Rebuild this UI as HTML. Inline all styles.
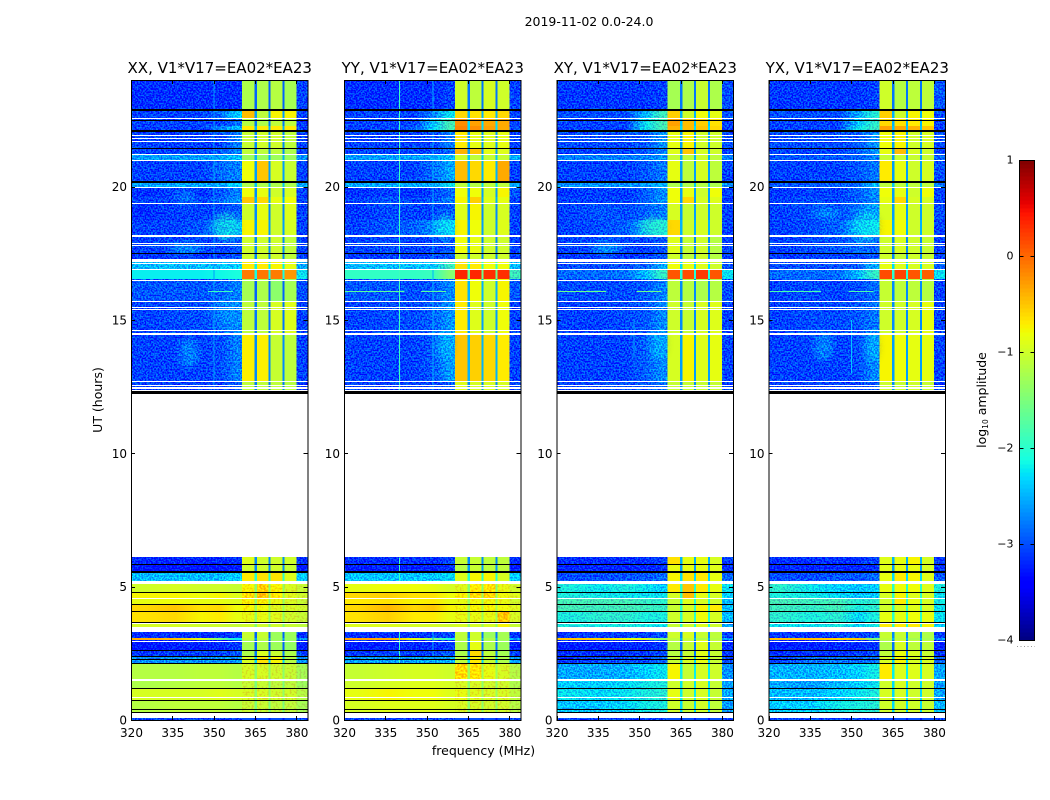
<!DOCTYPE html>
<html lang="en">
<head>
<meta charset="utf-8">
<title>2019-11-02 0.0-24.0</title>
<style>
html,body{margin:0;padding:0;background:#fff;}
svg{display:block;}
text{font-family:"DejaVu Sans","Liberation Sans",sans-serif;fill:#000;}
</style>
</head>
<body>
<svg id="figure" xmlns="http://www.w3.org/2000/svg" width="1050" height="800" viewBox="0 0 1050 800">
  <defs id="defs">
    <filter id="grain" x="0" y="0" width="1" height="1" color-interpolation-filters="sRGB">
      <feTurbulence type="fractalNoise" baseFrequency="0.62" numOctaves="1" seed="7" result="t"/>
      <feColorMatrix in="t" type="matrix" values="0 0 0 0 0.6  3.6 0 0 0 -1.3  0 0 0 0 0.6  0 0 0 0 1" result="n"/>
      <feComposite in="SourceGraphic" in2="n" operator="arithmetic" k1="0" k2="1" k3="0.5" k4="-0.3" result="m"/>
      <feComposite in="m" in2="SourceGraphic" operator="in"/>
    </filter>
    <filter id="speckle" x="0" y="0" width="1" height="1" color-interpolation-filters="sRGB">
      <feTurbulence type="fractalNoise" baseFrequency="0.5" numOctaves="1" seed="3" result="t"/>
      <feColorMatrix in="t" type="matrix" values="0 0 0 0 0.5  3.6 0 0 0 -1.3  0 0 0 0 0.5  0 0 0 0 1" result="n"/>
      <feComposite in="SourceGraphic" in2="n" operator="arithmetic" k1="0" k2="1" k3="0.3" k4="-0.15" result="m"/>
      <feComposite in="m" in2="SourceGraphic" operator="in"/>
    </filter>
    <filter id="soft" x="-50%" y="-100%" width="200%" height="300%">
      <feGaussianBlur stdDeviation="4 3"/>
    </filter>
  </defs>
  <text x="589" y="26" font-size="12.5" text-anchor="middle">2019-11-02 0.0-24.0</text>
  <text transform="translate(102,400) rotate(-90)" font-size="12.5" text-anchor="middle">UT (hours)</text>
  <text x="483.5" y="755" font-size="12.5" text-anchor="middle">frequency (MHz)</text>
  <text transform="translate(986,400) rotate(-90)" font-size="12.5" text-anchor="middle">log<tspan font-size="7.5" dy="2">10</tspan><tspan dy="-2"> amplitude</tspan></text>
  <g id="panels"></g>
  <g id="colorbar"></g>
</svg>
<script>
// ---- chart data (log10 amplitude, UT hours, MHz) ----
const panelTitles = ["XX, V1*V17=EA02*EA23","YY, V1*V17=EA02*EA23","XY, V1*V17=EA02*EA23","YX, V1*V17=EA02*EA23"];
const lowFreqCenters = [325,336,345.5,352.5,358.15];
const lowFreqRange = [320,360.3];
const bandEdges = [360.3,364.8,365.7,369.9,370.6,374.9,375.7,380,384];
const columnOfBand = [5,6,7,6,8,6,9,10];
const utEdges = [24,22.875,22.54,22.275,22.09,21.45,21.225,20.98,20.175,19.99,19.61,19.35,18.75,18.15,17.475,17.21,16.875,16.54,15.675,14.475,12.71,12.24,6.11,5.81,5.55,5.21,4.8,4.575,4.33,4.07,3.66,3.3,3.075,3,2.625,2.36,2.1,1.5,1.16,0.71,0.26,0];
const xTicks = [320,335,350,365,380];
const utTicks = [0,5,10,15,20];
const colorTicks = [1,0,-1,-2,-3,-4];
const colorTickLabels = ["1","0","\u22121","\u22122","\u22123","\u22124"];
const NA = null;
const blank = [NA,NA,NA,NA,NA,NA,NA,NA,NA,NA,NA];

const seriesXX = [
[-3.1,-3.1,-3.1,-3.1,-3.1,-1.2,-2.6,-1.2,-1.15,-1.25,-3],
[-3,-3,-3,-2.8,-2.3,-.45,-2.3,-1.1,-.75,-.75,-3],
[-3,-3,-3,-3,-2.8,-1.15,-2.5,-1.2,-1.1,-1.1,-3.1],
[-3,-3,-3,-2.7,-2.4,-.7,-2.2,-.7,-.7,-.7,-3],
[-3,-3,-3,-3,-2.7,-1.05,-2.4,-1,-1,-1.1,-3],
[-3,-3,-3,-2.9,-2.7,-1.1,-2.4,-1.1,-1.1,-1.2,-3],
[-2.55,-2.55,-2.55,-2.5,-2.4,-1.3,-2.2,-1.3,-1.3,-1.3,-2.6],
[-3,-3,-3,-2.8,-2.7,-.8,-2.3,-.5,-.95,-1.05,-3],
[-2.5,-2.5,-2.5,-2.5,-2.3,-1.2,-2.1,-1.2,-1.2,-1.2,-2.5],
[-3.1,-3,-3.1,-2.9,-2.7,-.8,-2.4,-.85,-1,-.95,-3],
[-3,-3,-3,-2.8,-2.6,-.5,-2.2,-.6,-.85,-.8,-3],
[-3.1,-3,-3,-3,-2.9,-1,-2.4,-.85,-1,-.9,-3],
[-3,-3,-2.9,-2.7,-2.5,-.75,-2.3,-.75,-1,-.95,-3],
[-3,-3,-3,-3,-2.9,-1,-2.4,-1,-1,-1.1,-3],
[-3.1,-3,-3.1,-3,-2.9,-1,-2.4,-1,-1,-1.1,-3],
[-2.4,-2.4,-2.4,-2.4,-2.3,-.7,-1.9,-.7,-.75,-.85,-2.5],
[-2.2,-2.2,-2.2,-2.15,-2.1,-.1,-1.8,-.08,-.1,-.25,-2.2],
[-2.9,-2.9,-2.9,-2.85,-2.7,-1.25,-2.6,-1.2,-1.4,-1.25,-2.95],
[-3,-2.95,-2.95,-2.8,-2.65,-1.1,-2.5,-1.1,-.95,-.9,-3],
[-3,-3,-3,-2.95,-2.7,-.72,-2.4,-.72,-1.05,-1.1,-3],
[-3,-3,-3,-3,-2.9,-1.1,-2.5,-1.1,-1.1,-1.15,-3.05],
blank,
[-3.15,-3.15,-3.15,-3.15,-3.1,-.9,-2.4,-1,-1,-1,-3.1],
[-3.25,-3.25,-3.25,-3.25,-3.2,-1,-2.4,-1,-1,-1.05,-3.2],
[-2.4,-2.4,-2.4,-2.4,-2.3,-.7,-1.7,-.65,-.65,-.9,-2.3],
[-1,-.95,-1,-1,-1.05,-.75,-1.1,-.55,-.75,-.95,-1.05],
[-.75,-.75,-.8,-.75,-.9,-.6,-1,-.5,-.7,-.9,-1],
[-.85,-.8,-.85,-.85,-.9,-.75,-1.05,-.75,-.85,-.95,-1.05],
[-.6,-.5,-.65,-.6,-.8,-.75,-1,-.8,-.9,-.95,-1],
[-.65,-.6,-.75,-.7,-.85,-.85,-1.05,-.85,-.9,-1,-1.05],
[-.95,-.95,-1,-1,-1.05,-1,-1.2,-1,-1,-1.05,-1.1],
[-3.1,-3.1,-3.1,-3.1,-3,-1.05,-2.6,-1.05,-1.3,-1.3,-3.1],
[-.35,-.45,-.9,-1.5,-2.2,-1.1,-2.3,-1.1,-1.3,-1.3,-2.6],
[-3.25,-3.2,-3.2,-3.15,-3.05,-1.25,-2.6,-1.2,-1.3,-1.35,-3.2],
[-3.05,-3.05,-3,-3,-2.9,-1.2,-2.5,-.95,-1.05,-1.2,-3],
[-2.6,-2.6,-2.6,-2.6,-2.55,-.95,-2,-.65,-.75,-1.15,-2.6],
[-1.15,-1.15,-1.1,-1.1,-1.15,-.95,-1.1,-.95,-1,-1.05,-1.25],
[-1.2,-1.15,-1.1,-1.1,-1.15,-1.05,-1.2,-1.05,-1.1,-1.1,-1.3],
[-.95,-.95,-.95,-.9,-.95,-.95,-1.05,-.95,-1,-1,-1.15],
[-1.15,-1.1,-1.1,-1.1,-1.15,-1.05,-1.2,-1.05,-1.1,-1.1,-1.25],
[-3,-3,-3,-3,-3,-3,-3,-3,-3,-3,-3]
];

const seriesYY = [
[-3.1,-3.1,-3.1,-3.1,-3,-1,-2.5,-1.1,-.95,-1,-3],
[-3,-3,-3,-2.7,-2.2,-.6,-2.2,-.65,-.7,-.6,-3],
[-3,-3,-3,-2.35,-1.85,-.2,-2,-.3,-.35,-.35,-3],
[-3,-3,-2.9,-2.3,-1.85,-.15,-2,-.2,-.3,-.35,-3],
[-3,-3,-3,-3,-2.7,-.7,-2.3,-.85,-.9,-.85,-3],
[-3,-3,-3,-3,-2.8,-.4,-2.3,-.5,-.85,-.9,-3],
[-2.55,-2.55,-2.55,-2.5,-2.4,-1,-2.1,-1.1,-1.05,-1.05,-2.5],
[-3,-3,-3,-2.8,-2.5,-.45,-2.2,-.6,-.7,-.35,-3],
[-2.5,-2.5,-2.5,-2.5,-2.2,-1.1,-2,-1.15,-1.1,-1.1,-2.5],
[-3.1,-3,-3.1,-3,-2.8,-.8,-2.3,-.8,-.95,-.75,-2.9],
[-3,-2.9,-3,-2.9,-2.7,-.75,-2.2,-.55,-.9,-.85,-3],
[-3.05,-2.95,-3,-3,-2.9,-.9,-2.4,-.75,-1,-.95,-3],
[-3,-2.9,-2.85,-2.65,-2.3,-.75,-2.3,-.8,-1,-.9,-3],
[-3,-2.95,-3,-3,-2.9,-.8,-2.4,-.85,-1,-1,-3],
[-3.05,-3,-3.05,-3,-2.9,-1,-2.4,-1,-1,-1,-3],
[-2.4,-2.4,-2.4,-2.35,-1.9,-.65,-1.7,-.7,-.8,-.8,-2.4],
[-1.95,-1.95,-1.95,-1.9,-1.45,.35,-1.3,.35,.3,.3,-1.9],
[-2.9,-2.9,-2.95,-2.9,-2.65,-.65,-2.2,-.8,-1,-.75,-2.9],
[-3,-2.95,-2.95,-2.85,-2.6,-.7,-2.3,-.9,-1,-.8,-3],
[-3,-3,-3,-2.9,-2.55,-.5,-2.2,-.55,-.6,-.7,-3],
[-3,-3,-3,-3,-2.9,-.9,-2.4,-.95,-.95,-.95,-3],
blank,
[-3.1,-3.1,-3.1,-3.1,-3,-1.05,-2.4,-1.05,-1.1,-1.1,-3.1],
[-3.2,-3.2,-3.2,-3.2,-3.1,-1.15,-2.3,-1.05,-1.1,-1.1,-3.2],
[-2.35,-2.35,-2.35,-2.35,-2.25,-.9,-1.7,-.75,-.75,-.95,-2.3],
[-.85,-.8,-.8,-.85,-.95,-.9,-1.15,-.7,-.65,-.85,-1],
[-.6,-.55,-.65,-.65,-.8,-.75,-1,-.6,-.55,-.8,-.9],
[-.7,-.65,-.75,-.7,-.85,-.85,-1,-.8,-.8,-.85,-1],
[-.6,-.42,-.6,-.5,-.75,-.8,-.95,-.75,-.75,-.8,-.9],
[-.65,-.55,-.7,-.7,-.85,-.85,-1,-.85,-.85,-.5,-.95],
[-.9,-.9,-.95,-.95,-1,-.95,-1.1,-.95,-.95,-.75,-1.05],
[-3.1,-3.1,-3.05,-3.05,-2.95,-1.1,-2.5,-1,-1.3,-1.25,-3.1],
[-.3,-.35,-.85,-1.4,-2.1,-1.1,-2.2,-1,-1.2,-1.25,-2.5],
[-3.2,-3.2,-3.15,-3.15,-3.05,-1.2,-2.5,-.85,-1.2,-1.3,-3.2],
[-3.05,-3,-3,-3,-2.9,-1.2,-2.5,-.6,-1.1,-1.25,-3],
[-2.55,-2.55,-2.5,-2.5,-2.45,-1.1,-2,-.7,-1.05,-1.2,-2.55],
[-1.05,-1,-.95,-.95,-1,-.6,-1,-.65,-.85,-.95,-1.15],
[-1,-.95,-.9,-.9,-.95,-.95,-1.1,-.95,-1,-1,-1.2],
[-.85,-.75,-.8,-.8,-.9,-.85,-1,-.9,-.95,-.95,-1.1],
[-.95,-.9,-.9,-.9,-.95,-.95,-1.1,-.95,-1,-1,-1.15],
[-3,-3,-3,-3,-3,-3,-3,-3,-3,-3,-3]
];

const seriesXY = [
[-3.05,-3.05,-3.05,-3.05,-3,-1.25,-2.5,-1.2,-1.05,-1.2,-2.95],
[-2.95,-2.95,-2.95,-2.4,-1.9,-.55,-2.2,-1,-.8,-.85,-2.9],
[-3,-3,-3,-2.2,-1.85,-.3,-2.1,-.45,-.55,-.65,-3],
[-3,-3,-3,-2.2,-1.85,-.4,-2,-.45,-.5,-.6,-3],
[-2.95,-2.95,-2.95,-2.9,-2.6,-.85,-2.3,-.75,-1,-1,-2.95],
[-3,-3,-3,-2.9,-2.7,-.9,-2.3,-.5,-.95,-1,-3],
[-2.7,-2.7,-2.7,-2.7,-2.6,-1.05,-2.2,-1.1,-1,-1.1,-2.7],
[-3,-3,-3,-2.9,-2.75,-.85,-2.3,-1.1,-.95,-1.1,-3],
[-2.6,-2.6,-2.6,-2.6,-2.4,-1.2,-2.1,-1.2,-1.15,-1.2,-2.6],
[-3.05,-3,-3.05,-2.85,-2.65,-.8,-2.3,-.85,-1,-.8,-3],
[-3,-3,-3,-2.85,-2.6,-.8,-2.3,-.6,-.95,-.9,-3],
[-3,-2.9,-2.95,-2.85,-2.7,-.95,-2.3,-1.05,-1,-1,-3],
[-3,-2.95,-2.85,-2.5,-2.1,-.6,-2.2,-1,-.95,-1,-3],
[-3,-2.95,-2.95,-3,-2.9,-.9,-2.4,-1.05,-1,-1.15,-3],
[-3.05,-3,-3.05,-3,-2.9,-1,-2.4,-1.1,-1,-1.15,-3],
[-2.95,-2.95,-2.95,-2.85,-2.5,-.8,-2,-.85,-.9,-1,-2.9],
[-2.8,-2.8,-2.75,-2.4,-1.95,.1,-1.75,.15,.25,.1,-2.2],
[-2.95,-2.95,-2.95,-2.9,-2.7,-1.1,-2.4,-1.15,-1.2,-1.15,-2.95],
[-3,-3,-2.95,-2.9,-2.65,-1,-2.4,-1.05,-.95,-.9,-3],
[-3,-3,-3,-2.85,-2.65,-.95,-2.3,-.75,-.9,-.85,-3],
[-3,-2.95,-2.9,-2.9,-2.8,-1.05,-2.4,-1.05,-1.05,-1.05,-3],
blank,
[-3.1,-3.1,-3.1,-3.1,-3,-.65,-2.2,-.85,-.85,-.95,-3],
[-3.15,-3.15,-3.15,-3.15,-3.1,-.85,-2.3,-.85,-.85,-.9,-3.1],
[-2.95,-2.95,-2.9,-2.9,-2.8,-.75,-2,-.65,-.7,-.85,-2.85],
[-2.1,-2.2,-2.1,-2.2,-2.3,-.7,-1.7,-.5,-.7,-.85,-2.2],
[-2.1,-2.15,-2.2,-2.2,-2.2,-.95,-1.7,-.45,-.85,-.95,-2.3],
[-1.85,-1.85,-1.85,-1.95,-2,-1.05,-1.75,-.9,-.95,-1,-2.4],
[-1.85,-1.9,-1.85,-1.9,-1.95,-1.05,-1.7,-.95,-.75,-.7,-2.4],
[-2.1,-2,-2,-2.1,-2.1,-1,-1.7,-.95,-.8,-.95,-2.4],
[-2.1,-2.15,-2.1,-2.15,-2.2,-1.05,-1.75,-1,-.9,-1,-2.5],
[-3.05,-3.05,-3,-3,-2.95,-1,-2.4,-.95,-1.05,-1.1,-3],
[-.5,-.55,-.85,-.9,-1.5,-1.1,-2.2,-1.05,-1.2,-1.15,-2.6],
[-3.2,-3.2,-3.15,-3.15,-3.05,-1.15,-2.5,-1.05,-.9,-1.05,-3.1],
[-3.1,-3.1,-3.05,-3.05,-2.95,-1.15,-2.5,-1.05,-.9,-1.05,-3.05],
[-3.05,-2.95,-2.9,-2.95,-2.8,-1.05,-2,-.95,-.85,-1.05,-2.95],
[-2.5,-2.5,-2.45,-2.3,-2.2,-.75,-1.9,-1.05,-.95,-1,-2.6],
[-2.3,-2.3,-2.25,-2.15,-2.1,-1,-1.95,-1,-.95,-1.05,-2.55],
[-2.2,-2.25,-2.2,-2.1,-2.05,-.85,-1.9,-1,-.95,-1.05,-2.5],
[-2.35,-2.35,-2.25,-2.15,-2.1,-1,-2,-1.05,-1,-1.1,-2.55],
[-3,-3,-3,-3,-3,-3,-3,-3,-3,-3,-3]
];

const seriesYX = [
[-3.05,-3.05,-3.05,-3.05,-3,-1,-2.5,-1.15,-1.1,-1.1,-2.9],
[-2.95,-2.95,-2.95,-2.5,-2.05,-.55,-2.2,-1,-.75,-.8,-2.95],
[-3,-3,-3,-2.35,-2,-.6,-2.2,-.65,-.7,-.75,-3],
[-3,-3,-3,-2.2,-1.95,-.3,-2.1,-.35,-.4,-.5,-3],
[-2.95,-2.95,-2.95,-2.9,-2.6,-.8,-2.3,-.75,-1,-.95,-2.95],
[-3,-3,-3,-2.85,-2.6,-.85,-2.3,-.45,-.95,-1,-3],
[-2.9,-2.9,-2.9,-2.85,-2.7,-1.05,-2.3,-1.05,-1.05,-1.05,-2.85],
[-3,-3,-3,-2.9,-2.75,-.7,-2.3,-.85,-1,-.95,-2.95],
[-2.9,-2.9,-2.85,-2.8,-2.4,-1.1,-2.1,-1.1,-1.1,-1.1,-2.7],
[-3.05,-3,-3,-2.85,-2.65,-.8,-2.3,-.85,-1,-.8,-3],
[-3,-2.95,-3,-2.85,-2.65,-.85,-2.3,-.6,-.95,-.95,-3],
[-3,-2.95,-2.95,-2.75,-2.55,-.95,-2.3,-.85,-1,-1,-2.95],
[-3,-2.95,-2.85,-2.45,-2.2,-.75,-2.2,-.8,-1,-1,-3],
[-3,-2.95,-2.9,-2.8,-2.85,-1,-2.4,-.95,-1,-1.05,-3],
[-3.05,-3,-3,-3,-2.9,-1,-2.4,-1.05,-1,-1.05,-3],
[-2.95,-2.95,-2.95,-2.85,-2.5,-.85,-2,-.9,-.95,-.95,-2.85],
[-2.8,-2.8,-2.8,-2.4,-1.95,.15,-1.7,.2,.1,.05,-2.2],
[-3,-2.95,-3,-2.95,-2.8,-1.05,-2.4,-1.1,-1.1,-1.15,-3],
[-3,-2.95,-2.95,-2.9,-2.75,-1,-2.4,-1,-.95,-.85,-3],
[-3,-3,-3,-2.95,-2.65,-.75,-2.3,-.8,-.85,-.85,-3],
[-3,-3,-3,-3,-2.9,-1,-2.4,-1.05,-1,-1.05,-3],
blank,
[-3.1,-3.1,-3.1,-3.1,-3,-.9,-2.2,-.85,-.75,-.95,-3.05],
[-3.15,-3.15,-3.15,-3.15,-3.1,-.9,-2.3,-.85,-.85,-.95,-3.1],
[-2.95,-2.95,-2.9,-2.9,-2.8,-.85,-2,-.7,-.75,-.9,-2.9],
[-2,-2.2,-2.3,-2.35,-2.3,-.85,-1.7,-.8,-.8,-.9,-2.1],
[-2.1,-2.15,-2.25,-2.4,-2.3,-.95,-1.7,-.75,-.9,-.95,-2.2],
[-1.85,-1.9,-1.85,-2.05,-2,-1,-1.7,-.7,-.85,-.95,-2.15],
[-1.9,-1.95,-1.85,-2.1,-2,-1,-1.7,-.95,-.9,-.95,-2.2],
[-2,-2.1,-2,-2.25,-2.1,-.85,-1.7,-.85,-.8,-.85,-2.2],
[-2.2,-2.2,-2.1,-2.25,-2.15,-.7,-1.75,-.7,-.7,-.75,-2.3],
[-3.05,-3.05,-3,-3,-2.95,-1.05,-2.4,-1.05,-1.15,-1.2,-3],
[-.45,-.45,-.6,-.5,-1.5,-1.1,-2.2,-1.1,-1.25,-1.25,-2.6],
[-3.2,-3.2,-3.15,-3.15,-3.05,-1.2,-2.5,-.95,-1.1,-1.1,-3.15],
[-3.1,-3.1,-3.05,-3.05,-2.95,-1.1,-2.5,-.85,-.95,-1.05,-3.05],
[-3,-2.75,-2.75,-2.8,-2.75,-.95,-2,-.75,-.95,-.95,-2.85],
[-2.45,-2.45,-2.4,-2.3,-2.15,-.7,-1.9,-.9,-.9,-.95,-2.5],
[-2.5,-2.55,-2.4,-2.3,-2.2,-1,-2,-.95,-1,-1,-2.55],
[-2.4,-2.4,-2.3,-2.2,-2.1,-.95,-2,-.95,-1,-1,-2.5],
[-2.3,-2.3,-2.15,-2.1,-2.05,-1,-2,-1,-1,-1.05,-2.4],
[-3,-3,-3,-3,-3,-3,-3,-3,-3,-3,-3]
];
const panelSeries = [seriesXX, seriesYY, seriesXY, seriesYX];
// rows whose low band is visibly smooth, per panel
const smoothLowRows = [[16],[16],[],[]];
// rows whose spectral windows are visibly speckled, per panel
const speckledBandRows = [[25,26,27,28,29,36,37,38,39],[25,26,27,28,29,36,37,38,39],[],[]];

// flagged time intervals [UT start, UT end], same for every panel
const whiteFlagStart = [22.575,21.92,21.825,21.73,21.24,21,20,19.395,18.19,17.895,17.81,17.29,17.12,16.93,16.5,15.71,15.495,15.41,14.63,14.53,12.71,12.58,12.47,12.39,5.22,4.585,3.62,3.475,2.96,1.556,0.863,0.251];
const whiteFlagEnd   = [22.53,21.87,21.79,21.695,21.2,20.96,19.96,19.35,18.13,17.85,17.76,17.195,17.07,16.885,16.445,15.66,15.45,15.375,14.585,14.455,12.655,12.535,12.41,12.35,5.1,4.535,3.58,3.3,2.906,1.481,0.825,0.049];
const blackFlagStart = [22.93,22.51,22.11,21.46,20.21,17.52,12.35,5.86,5.6,4.81,4.36,4.095,3.675,2.64,2.4,2.27,2.14,1.21,0.76,0.42,0.3];
const blackFlagEnd   = [22.855,22.475,22.04,21.41,20.12,17.475,12.245,5.81,5.54,4.76,4.31,4.05,3.63,2.6,2.35,2.23,2.09,1.16,0.71,0.375,0.25];

// narrow interference features: panel, MHz, UT range, log10 amplitude
const rfiVPanel = [1,1,1,1,1,0,3,2];
const rfiVFreq  = [340,340,340,352,352,350,350,348];
const rfiVTop   = [24,6.1,3.3,24,3.3,24,15,15];
const rfiVBot   = [12.3,5.2,2.1,12.3,2.1,12.3,13,13.6];
const rfiVVal   = [-1.9,-1.9,-1.9,-2.5,-2.5,-2.6,-2.4,-2.6];
const rfiHPanel = [0,1,1,2,2,3,3];
const rfiHUt    = [16.08,16.08,16.08,16.08,16.08,16.08,16.08];
const rfiHFrom  = [348,320,348,320,349,320,349];
const rfiHTo    = [357,342,357,338,358,339,358];
const rfiHVal   = [-1.9,-1.7,-1.7,-1.6,-1.6,-1.8,-1.8];

// diffuse emission patches: panel, MHz, UT, half-widths, log10 amplitude
const patchPanel = [0,0,0,0,0,1,1,2,2,2,3,3,3,3];
const patchFreq  = [341,354.5,340,354.7,340,356.6,356.6,355,338,357,341,355.5,340,357.7];
const patchUt    = [13.76,18.5,17.7,15.3,19.6,18.5,14.1,18.5,17.7,14.1,19,18.5,14,14];
const patchRx    = [3.5,5,6,4,4,3.5,3.5,5,5,3,5,5,3.5,2.5];
const patchRy    = [0.55,0.55,0.2,0.5,0.3,0.5,0.6,0.35,0.2,0.6,0.2,0.6,0.55,0.6];
const patchVal   = [-2.45,-2.1,-2.3,-2.55,-2.6,-2.2,-2.4,-1.95,-2.3,-2.35,-2.4,-2.2,-2.45,-2.35];

// ---- axes and scales ----
const panelLeft = [131,344,556.5,768.5];
const panelWidth = 176.5;
const axisTop = 80, axisBottom = 720;
const barLeft = 1019.5, barWidth = 15, barTop = 160, barBottom = 640;
const gapCalibration = -0.3;
const SVGNS = "http://www.w3.org/2000/svg";

function xScale(p, f){ return panelLeft[p] + (f - 320) * panelWidth / 64; }
function yScale(ut){ return axisBottom - ut * (axisBottom - axisTop) / 24; }
function cScale(v){ return barBottom - (v + 4) * (barBottom - barTop) / 5; }

function seg(t, pts){
  for(let i=1;i<pts.length;i++){
    if(t<=pts[i][0]){
      const a=pts[i-1], b=pts[i];
      return a[1]+(b[1]-a[1])*(t-a[0])/(b[0]-a[0]);
    }
  }
  return pts[pts.length-1][1];
}
function jet(v){
  const t = Math.max(0, Math.min(1, (v + 4) / 5));
  const r = seg(t, [[0,0],[.35,0],[.66,1],[.89,1],[1,.5]]);
  const g = seg(t, [[0,0],[.125,0],[.375,1],[.64,1],[.91,0],[1,0]]);
  const b = seg(t, [[0,.5],[.11,1],[.34,1],[.65,0],[1,0]]);
  return "rgb("+Math.round(r*255)+","+Math.round(g*255)+","+Math.round(b*255)+")";
}
function make(tag, parent, attrs, txt){
  const el = document.createElementNS(SVGNS, tag);
  for(const k in attrs){ el.setAttribute(k, attrs[k]); }
  if(txt !== undefined){ el.textContent = txt; }
  parent.appendChild(el);
  return el;
}

const defsRoot = document.getElementById("defs");
const panelsRoot = document.getElementById("panels");
panelTitles.forEach(function(title, p){
  const g = make("g", panelsRoot, {});
  
  

  const smooth = make("g", g, {"shape-rendering":"crispEdges"});
  
  
  const speckled = make("g", g, {"shape-rendering":"crispEdges", "filter":"url(#speckle)"});
  
  
  const noisy = make("g", g, {"shape-rendering":"crispEdges", "filter":"url(#grain)"});
  
  

  panelSeries[p].forEach(function(row, r){
    if(row[0] === null){ return; }
    const yTop = yScale(utEdges[r]), yBot = yScale(utEdges[r+1]);
    const gradId = "low-" + p + "-" + r;
    const grad = make("linearGradient", defsRoot, {id:gradId});
    lowFreqCenters.forEach(function(fc, i){
      make("stop", grad, {offset:(fc-lowFreqRange[0])/(lowFreqRange[1]-lowFreqRange[0]), "stop-color":jet(row[i])});
    });
    const lowIsNoisy = row[0] < -1.6 && smoothLowRows[p].indexOf(r) < 0;
    const x0 = xScale(p, lowFreqRange[0]), x1 = xScale(p, lowFreqRange[1]);
    const lowCell = make("rect", lowIsNoisy ? noisy : smooth, {x:x0, y:yTop, width:x1-x0, height:yBot-yTop, fill:"url(#"+gradId+")"});
    
    
    columnOfBand.forEach(function(col, s){
      const isGap = col === 6;
      const isRight = col === 10;
      const v = isGap ? row[col] + gapCalibration : row[col];
      const bx0 = xScale(p, bandEdges[s]), bx1 = xScale(p, bandEdges[s+1]);
      let host = smooth;
      if(isRight && v < -1.6){ host = noisy; }
      else if(!isGap && speckledBandRows[p].indexOf(r) >= 0){ host = speckled; }
      const cell = make("rect", host, {x:bx0, y:yTop, width:bx1-bx0, height:yBot-yTop, fill:jet(v)});
      
      
    });
  });

  patchFreq.forEach(function(f, i){
    if(patchPanel[i] !== p){ return; }
    const blob = make("ellipse", noisy, {cx:xScale(p,f), cy:yScale(patchUt[i]), rx:patchRx[i]*panelWidth/64, ry:patchRy[i]*(axisBottom-axisTop)/24, fill:jet(patchVal[i]), opacity:0.55, filter:"url(#soft)"});
    
    
  });

  rfiVFreq.forEach(function(f, i){
    if(rfiVPanel[i] !== p){ return; }
    const line = make("rect", g, {x:xScale(p,f), y:yScale(rfiVTop[i]), width:1, height:yScale(rfiVBot[i])-yScale(rfiVTop[i]), fill:jet(rfiVVal[i]), "shape-rendering":"crispEdges"});
    
    
  });
  rfiHUt.forEach(function(ut, i){
    if(rfiHPanel[i] !== p){ return; }
    const line = make("rect", g, {x:xScale(p,rfiHFrom[i]), y:yScale(ut), width:xScale(p,rfiHTo[i])-xScale(p,rfiHFrom[i]), height:1, fill:jet(rfiHVal[i]), "shape-rendering":"crispEdges"});
    
    
  });

  whiteFlagStart.forEach(function(ut, i){
    const band = make("rect", g, {x:panelLeft[p], y:Math.round(yScale(ut)), width:panelWidth, height:Math.max(1,Math.round(yScale(whiteFlagEnd[i])-yScale(ut))), fill:"#fff", "shape-rendering":"crispEdges"});
    
    
  });
  blackFlagStart.forEach(function(ut, i){
    const band = make("rect", g, {x:panelLeft[p], y:Math.round(yScale(ut)), width:panelWidth, height:Math.max(1,Math.round(yScale(blackFlagEnd[i])-yScale(ut))), fill:"#000", "shape-rendering":"crispEdges"});
    
    
  });

  const frame = make("rect", g, {x:panelLeft[p]+.5, y:axisTop+.5, width:panelWidth, height:axisBottom-axisTop, fill:"none", stroke:"#000", "stroke-width":1, "shape-rendering":"crispEdges"});
  
  

  xTicks.forEach(function(f){
    const x = Math.round(xScale(p,f))+.5;
    const t1 = make("line", g, {x1:x, x2:x, y1:axisBottom, y2:axisBottom-4, stroke:"#000", "shape-rendering":"crispEdges"});
    
    
    const t2 = make("line", g, {x1:x, x2:x, y1:axisTop, y2:axisTop+4, stroke:"#000", "shape-rendering":"crispEdges"});
    
    
    const lab = make("text", g, {x:xScale(p,f)+.5, y:737, "font-size":12, "text-anchor":"middle"}, String(f));
    
    
  });
  utTicks.forEach(function(u){
    const y = Math.round(yScale(u))+.5;
    const t1 = make("line", g, {x1:panelLeft[p], x2:panelLeft[p]+4, y1:y, y2:y, stroke:"#000", "shape-rendering":"crispEdges"});
    
    
    const t2 = make("line", g, {x1:panelLeft[p]+panelWidth, x2:panelLeft[p]+panelWidth-4, y1:y, y2:y, stroke:"#000", "shape-rendering":"crispEdges"});
    
    
    const lab = make("text", g, {x:panelLeft[p]-4, y:yScale(u)+4.5, "font-size":12, "text-anchor":"end"}, String(u));
    
    
  });
  const ttl = make("text", g, {x:panelLeft[p]+panelWidth/2+.5, y:73, "font-size":15, "text-anchor":"middle"}, title);
  
  
});

// ---- colorbar ----
const barRoot = document.getElementById("colorbar");
const barLevels = 120;
for(let i = 0; i < barLevels; i++){
  const vLow = -4 + 5 * i / barLevels;
  const vHigh = -4 + 5 * (i + 1) / barLevels;
  const slab = make("rect", barRoot, {x:barLeft, y:cScale(vHigh), width:barWidth, height:cScale(vLow)-cScale(vHigh)+.5, fill:jet((vLow+vHigh)/2), "shape-rendering":"crispEdges"});
  
  
}
const barFrame = make("rect", barRoot, {x:barLeft, y:barTop+.5, width:barWidth, height:barBottom-barTop, fill:"none", stroke:"#000", "stroke-width":1, "shape-rendering":"crispEdges"});


colorTicks.forEach(function(v, i){
  const y = Math.round(cScale(v))+.5;
  const t1 = make("line", barRoot, {x1:barLeft, x2:barLeft+4, y1:y, y2:y, stroke:"#000", "shape-rendering":"crispEdges"});
  
  
  const t2 = make("line", barRoot, {x1:barLeft+barWidth, x2:barLeft+barWidth-4, y1:y, y2:y, stroke:"#000", "shape-rendering":"crispEdges"});
  
  
  const lab = make("text", barRoot, {x:barLeft-6, y:cScale(v)+3.5, "font-size":11, "text-anchor":"end"}, colorTickLabels[i]);
  
  
});
const dots = make("line", barRoot, {x1:1017, x2:1035, y1:646.5, y2:646.5, stroke:"#999", "stroke-dasharray":"1 2.5", "shape-rendering":"crispEdges"});


</script>
</body>
</html>
